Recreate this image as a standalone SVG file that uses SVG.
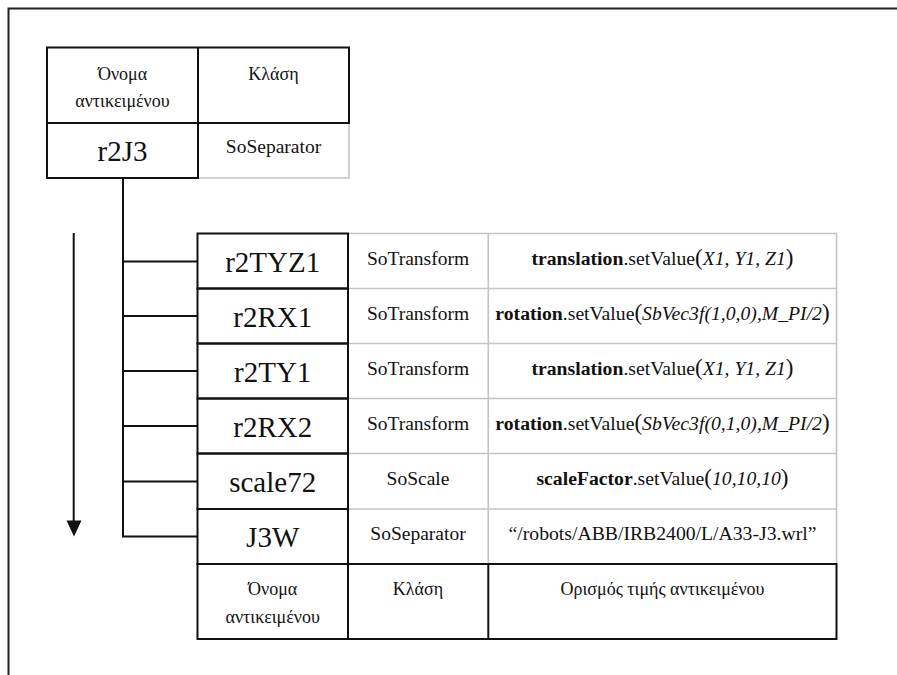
<svg xmlns="http://www.w3.org/2000/svg" width="897" height="675" viewBox="0 0 897 675">
  <style>
    text { font-family: "Liberation Serif", "DejaVu Serif", serif; fill: #111; text-anchor: middle; }
    .name { font-size: 29px; }
    .cls { font-size: 19.5px; }
    .hdr { font-size: 18px; }
    .val { font-size: 19.7px; }
    .b { font-weight: bold; }
    .i { font-style: italic; }
    .par { font-size: 23px; }
    .blk { fill: none; stroke: #111; stroke-width: 2; }
    .gry { fill: none; stroke: #c4c4c4; stroke-width: 1.6; }
    .wire { fill: none; stroke: #111; stroke-width: 2; }
    .frame { fill: none; stroke: #222; stroke-width: 2; }
  </style>

  <rect width="897" height="675" fill="#fff"/>
  <!-- open page frame: top and left edges only -->
  <path class="frame" d="M897,8.5 H8.5 V675"/>

  <!-- root node table -->
  <g id="r2J3">
    <path class="gry" d="M198,123 H349 V178 H198"/>
    <rect class="blk" x="47" y="47.5" width="302" height="75.5"/>
    <line class="blk" x1="198" y1="47.5" x2="198" y2="123"/>
    <rect class="blk" x="47" y="123" width="151" height="55"/>
    <text class="hdr" x="122.5" y="80">Όνομα</text>
    <text class="hdr" x="122.5" y="107">αντικειμένου</text>
    <text class="hdr" x="273.5" y="80">Κλάση</text>
    <text class="name" x="122.5" y="161">r2J3</text>
    <text class="cls" x="273.5" y="153">SoSeparator</text>
  </g>

  <!-- tree connectors and traversal arrow -->
  <g id="connectors">
    <path class="wire" d="M123,178 V537"/>
    <path class="wire" d="M122,261.5 H198 M122,316 H198 M122,371 H198 M122,426 H198 M122,481.5 H198 M122,536.5 H198"/>
    <line class="wire" x1="73.7" y1="233" x2="73.7" y2="522"/>
    <polygon points="66.5,520.5 81.5,520.5 74,536.5" fill="#111"/>
  </g>

  <!-- grey grid for class / value columns -->
  <g id="grid">
    <path class="gry" d="M348,233.5 H836.5 V564 M348,288.5 H836.5 M348,343.5 H836.5 M348,398.5 H836.5 M348,453.5 H836.5 M348,509 H836.5 M488.3,233.5 V564"/>
  </g>

  <g id="r2TYZ1">
    <rect class="blk" x="197.5" y="233.5" width="150.5" height="55"/>
    <text class="name" x="272.7" y="272">r2TYZ1</text>
    <text class="cls" x="418" y="265">SoTransform</text>
    <text class="val" x="662.5" y="265"><tspan class="b">translation</tspan>.setValue<tspan class="par">(</tspan><tspan class="i">X1, Y1, Z1</tspan><tspan class="par">)</tspan></text>
  </g>

  <g id="r2RX1">
    <rect class="blk" x="197.5" y="288.5" width="150.5" height="55"/>
    <text class="name" x="272.7" y="327">r2RX1</text>
    <text class="cls" x="418" y="320">SoTransform</text>
    <text class="val" x="662.5" y="320"><tspan class="b">rotation</tspan>.setValue<tspan class="par">(</tspan><tspan class="i">SbVec3f(1,0,0),M_PI/2</tspan><tspan class="par">)</tspan></text>
  </g>

  <g id="r2TY1">
    <rect class="blk" x="197.5" y="343.5" width="150.5" height="55"/>
    <text class="name" x="272.7" y="382">r2TY1</text>
    <text class="cls" x="418" y="375">SoTransform</text>
    <text class="val" x="662.5" y="375"><tspan class="b">translation</tspan>.setValue<tspan class="par">(</tspan><tspan class="i">X1, Y1, Z1</tspan><tspan class="par">)</tspan></text>
  </g>

  <g id="r2RX2">
    <rect class="blk" x="197.5" y="398.5" width="150.5" height="55"/>
    <text class="name" x="272.7" y="437">r2RX2</text>
    <text class="cls" x="418" y="430">SoTransform</text>
    <text class="val" x="662.5" y="430"><tspan class="b">rotation</tspan>.setValue<tspan class="par">(</tspan><tspan class="i">SbVec3f(0,1,0),M_PI/2</tspan><tspan class="par">)</tspan></text>
  </g>

  <g id="scale72">
    <rect class="blk" x="197.5" y="453.5" width="150.5" height="55.5"/>
    <text class="name" x="272.7" y="492">scale72</text>
    <text class="cls" x="418" y="485">SoScale</text>
    <text class="val" x="662.5" y="485"><tspan class="b">scaleFactor</tspan>.setValue<tspan class="par">(</tspan><tspan class="i">10,10,10</tspan><tspan class="par">)</tspan></text>
  </g>

  <g id="J3W">
    <rect class="blk" x="197.5" y="509" width="150.5" height="55"/>
    <text class="name" x="272.7" y="547">J3W</text>
    <text class="cls" x="418" y="540">SoSeparator</text>
    <text class="val" x="662.5" y="540">“/robots/ABB/IRB2400/L/A33-J3.wrl”</text>
  </g>

  <!-- column legend under the child table -->
  <g id="legend">
    <rect class="blk" x="197.5" y="564" width="639" height="75"/>
    <line class="blk" x1="348" y1="564" x2="348" y2="639"/>
    <line class="blk" x1="488.3" y1="564" x2="488.3" y2="639"/>
    <text class="hdr" x="272.7" y="595">Όνομα</text>
    <text class="hdr" x="272.7" y="623">αντικειμένου</text>
    <text class="hdr" x="418" y="595">Κλάση</text>
    <text class="hdr" x="662.5" y="595">Ορισμός τιμής αντικειμένου</text>
  </g>
</svg>
